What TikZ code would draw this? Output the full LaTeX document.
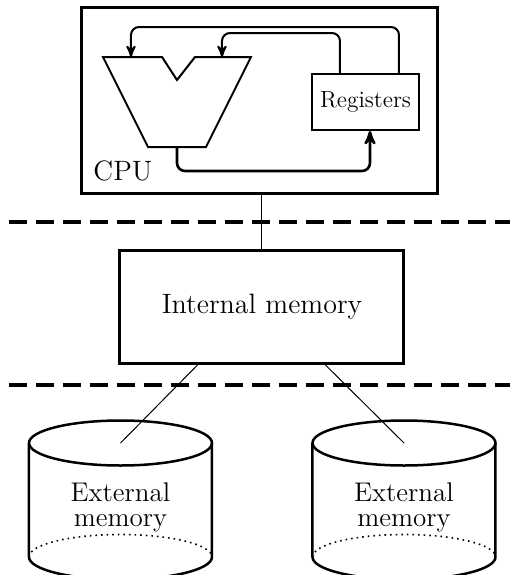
\documentclass[tikz,border=0pt]{standalone}
\usepackage{xcolor}
\usepackage{tikz}
\usetikzlibrary{positioning}
\usetikzlibrary{calc,arrows}
\tikzset{
  membox/.style = {draw=black, line width=1.5pt, inner sep=0pt, align=center,
    font=\fontsize{14}{16}\selectfont},% boite memoire
  regbox/.style = {draw=black, line width=1pt, inner sep=0pt,
    font=\fontsize{11.7}{14}\selectfont},% registres
  bus/.style = {line width=1pt, rounded corners=4pt},
  link/.style = {line width=0.5pt},
  levelsep/.style = {line width=2pt, dash pattern=on 9pt off 4.5pt},
  disk/.style = {line width=1.25pt},
  disklabel/.style = {align=center, inner sep=0pt,
    font=\fontsize{13.5}{12.5}\selectfont}
}
\begin{document}
\begin{tikzpicture}[>=stealth', x=0.5pt, y=-0.5pt]
\useasboundingbox (0,0) rectangle (510,575);
\node [membox, minimum width=178pt, minimum height=93pt] (cpu) at (260,100) {};
\node [membox, draw=none, anchor=base west] (cpu_name) at (92,180) {CPU};
\node [regbox, minimum width=53.5pt, minimum height=28pt] (reg) at (365.5,102)
  {Registers};
% alu
\draw [line width=1pt] (103,57) -- (162,57) -- (177,80) -- (195,57) -- (251,57)
  -- (206,147) -- (148,147) -- cycle;
\coordinate (alu_a) at (131,57);
\coordinate (alu_b) at (222,57);
\coordinate (alu_out) at (177,147);
\draw [bus, ->] ([xshift=-10.5pt]reg.north east) -- ++(0,-46) -| (alu_a);
\draw [bus, ->] ([xshift=14.5pt]reg.north west) -- ++(0,-40) -| (alu_b);
\draw [bus, ->, line width=1.3pt] (alu_out) -- ++(0,24) -| ([xshift=2.25pt]reg.south);
% memoire interne
\node [membox, minimum width=142pt, minimum height=56.5pt] (intmem) at (262,306.5)
  {Internal memory};
\draw [link] (intmem.north) -- (intmem.north |- cpu.south);
\draw [levelsep] (9,222) -- (510,222);
\draw [levelsep] (9,385) -- (510,385);
% memoires externes
\foreach \cx/\nm in {120.5/ext_a, 404/ext_b}{
  \coordinate (\nm) at (\cx,443);
  \draw [disk] (\nm) ellipse [x radius=91.5, y radius=22.5];
  \draw [disk] (\cx-91.5,443) -- (\cx-91.5,557)
    arc [start angle=180, end angle=0, x radius=91.5, y radius=22.5]
    -- (\cx+91.5,443);
  \draw [line width=0.8pt, dotted] (\cx-91.5,557)
    arc [start angle=180, end angle=360, x radius=91.5, y radius=22.5];
  \node [disklabel] (\nm_label) at (\cx,507) {External\\memory};
}
\draw [link] ([xshift=-32pt]intmem.south) -- (ext_a);
\draw [link] ([xshift=31.5pt]intmem.south) -- (ext_b);
\end{tikzpicture}
\end{document}
